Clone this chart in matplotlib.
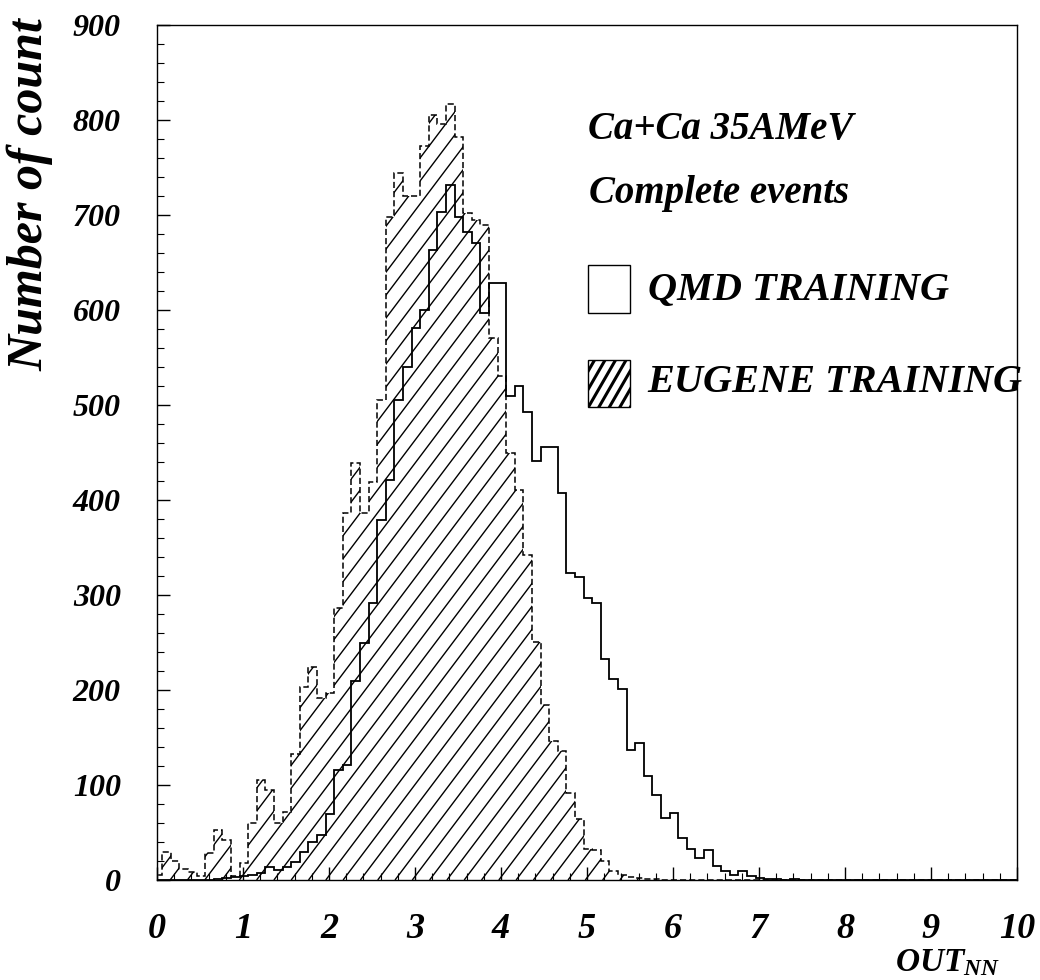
import numpy as np
import matplotlib
matplotlib.use("Agg")
import matplotlib.pyplot as plt
from matplotlib.collections import LineCollection
from matplotlib.patches import Rectangle
from matplotlib.ticker import MultipleLocator

# ---------------- data (counts per 0.1-wide bin, first bin centred near 0.0) -------------
bin_width = 0.1
first_edge = -0.04
qmd_counts = [0, 0, 0, 0, 0, 0, 0, 1, 2, 3,
              4, 5, 7, 14, 11, 14, 19, 30, 40, 47,
              70, 116, 121, 209, 249, 292, 379, 421, 505, 540,
              581, 600, 663, 703, 732, 698, 682, 670, 597, 628,
              628, 509, 520, 493, 441, 456, 456, 407, 323, 319,
              297, 292, 233, 212, 201, 137, 144, 109, 89, 65,
              71, 44, 33, 23, 32, 15, 10, 5, 10, 4,
              2, 1, 1, 0, 1, 0, 0, 0, 0, 0,
              0, 0, 0, 0, 0, 0, 0, 0, 0, 0,
              0, 0, 0, 0, 0, 0, 0, 0, 0, 0, 0]
eugene_counts = [5, 30, 20, 12, 8, 4, 28, 53, 42, 4,
                 18, 60, 105, 95, 60, 72, 133, 203, 224, 192,
                 197, 286, 386, 439, 386, 419, 505, 698, 744, 720,
                 720, 773, 805, 796, 817, 782, 702, 695, 689, 570,
                 530, 449, 410, 342, 251, 184, 146, 136, 92, 64,
                 33, 32, 20, 9, 5, 3, 2, 1, 1, 0,
                 0, 0, 0, 0, 0, 0, 0, 0, 0, 0,
                 0, 0, 0, 0, 0, 0, 0, 0, 0, 0,
                 0, 0, 0, 0, 0, 0, 0, 0, 0, 0,
                 0, 0, 0, 0, 0, 0, 0, 0, 0, 0, 0]
x_ticks = [0, 1, 2, 3, 4, 5, 6, 7, 8, 9, 10]
y_ticks = [0, 100, 200, 300, 400, 500, 600, 700, 800, 900]
label_qmd = "QMD TRAINING"
label_eugene = "EUGENE TRAINING"
annot1 = "Ca+Ca 35AMeV"
annot2 = "Complete events"
y_title = "Number of count"

edges = first_edge + bin_width * np.arange(len(qmd_counts) + 1)

# ---------------- style ----------------
plt.rcParams['font.family'] = ['Liberation Serif', 'DejaVu Serif']
plt.rcParams['font.weight'] = 'bold'
plt.rcParams['font.style'] = 'italic'
plt.rcParams['mathtext.fontset'] = 'custom'
plt.rcParams['mathtext.it'] = 'Liberation Serif:bold:italic'
plt.rcParams['mathtext.rm'] = 'Liberation Serif:bold:italic'

W_PX, H_PX = 1040, 980
fig = plt.figure(figsize=(W_PX / 100, H_PX / 100), dpi=100)
ax_l, ax_b, ax_r, ax_t = 157, 880, 1017, 25
ax = fig.add_axes([ax_l / W_PX, 1 - ax_b / H_PX, (ax_r - ax_l) / W_PX, (ax_b - ax_t) / H_PX])
axW, axH = ax_r - ax_l, ax_b - ax_t

ax.set_xlim(0, 10)
ax.set_ylim(0, 900)

# EUGENE: clip region + hatch + dashed outline
clip_patch = ax.stairs(eugene_counts, edges, fill=True, facecolor='none',
                       edgecolor='none', baseline=0)


def hatch_lines(spacing_px, angle_deg, x_from, x_to):
    dx = axH / np.tan(np.radians(angle_deg))
    segs = []
    x0 = x_from - dx
    while x0 < x_to:
        segs.append([(x0 / axW, 0.0), ((x0 + dx) / axW, 1.0)])
        x0 += spacing_px
    return segs


hc = LineCollection(hatch_lines(17.3, 53, 0, axW), colors='black', linewidths=1.0,
                    transform=ax.transAxes)
ax.add_collection(hc)
hc.set_clip_path(clip_patch)

ax.stairs(eugene_counts, edges, fill=False, edgecolor='black', linewidth=1.1,
          linestyle=(0, (4, 2)), baseline=0)
# QMD: solid outline
ax.stairs(qmd_counts, edges, fill=False, edgecolor='black', linewidth=1.3, baseline=0)

# ---------------- axes / ticks ----------------
ax.xaxis.set_minor_locator(MultipleLocator(0.2))
ax.yaxis.set_minor_locator(MultipleLocator(20))
ax.set_xticks(x_ticks)
ax.set_yticks(y_ticks)
ax.set_xticklabels([str(t) for t in x_ticks], fontsize=26)
ax.set_yticklabels([str(t) for t in y_ticks], fontsize=23)
ax.tick_params(which='both', direction='in', top=False, right=False)
ax.tick_params(which='major', length=9.5, width=1.0)
ax.tick_params(which='minor', length=5, width=0.8)
ax.tick_params(axis='y', which='major', pad=26)
ax.tick_params(axis='x', which='major', pad=24)
for s in ax.spines.values():
    s.set_linewidth(1.0)

fig.text(30 / W_PX, 1 - 18 / H_PX, y_title, fontsize=36, rotation=90,
         ha='center', va='top')

fig.text(895 / W_PX, 1 - 971 / H_PX, r"$OUT_{NN}$", fontsize=24, ha='left', va='baseline')

# ---------------- annotations / legend ----------------
def fx(px):
    return (px - ax_l) / axW


def fy(py):
    return (ax_b - py) / axH


ax.text(fx(588), fy(139), annot1, transform=ax.transAxes, fontsize=28,
        ha='left', va='baseline')
ax.text(fx(589), fy(203), annot2, transform=ax.transAxes, fontsize=28,
        ha='left', va='baseline')

ax.add_patch(Rectangle((fx(588), fy(313)), fx(630) - fx(588), fy(265) - fy(313),
                       transform=ax.transAxes, facecolor='white', edgecolor='black',
                       linewidth=1.0, clip_on=False))
ax.text(fx(648), fy(300), label_qmd, transform=ax.transAxes, fontsize=29,
        ha='left', va='baseline', clip_on=False)

leg_box = Rectangle((fx(588), fy(407)), fx(630) - fx(588), fy(360) - fy(407),
                    transform=ax.transAxes, facecolor='white', edgecolor='black',
                    linewidth=1.0, clip_on=False)
ax.add_patch(leg_box)
hc2 = LineCollection(hatch_lines(10.5, 60, 400, 500), colors='black', linewidths=2.2,
                     transform=ax.transAxes)
ax.add_collection(hc2)
hc2.set_clip_path(leg_box)
ax.text(fx(647), fy(392), label_eugene, transform=ax.transAxes, fontsize=29,
        ha='left', va='baseline', clip_on=False)

fig.savefig("out.png", dpi=100)
